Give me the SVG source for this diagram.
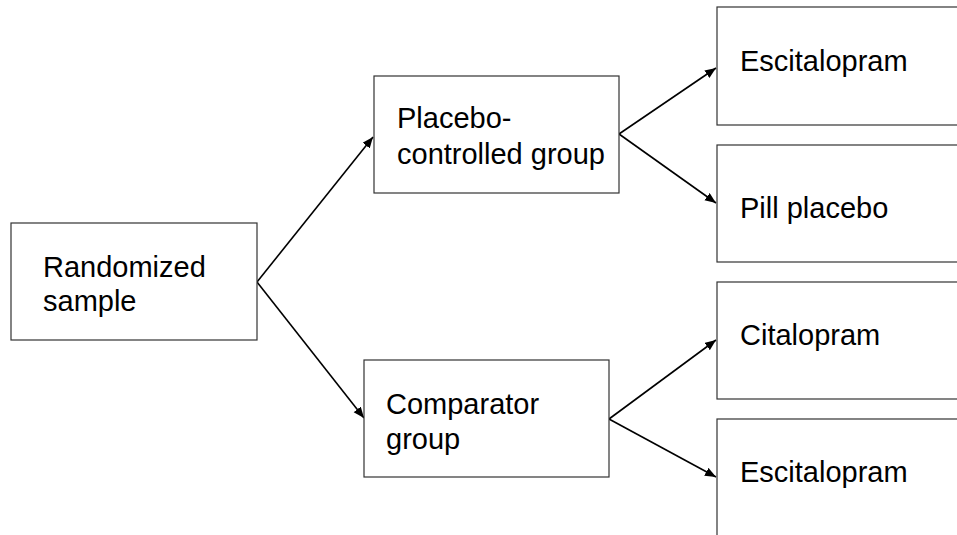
<svg xmlns="http://www.w3.org/2000/svg" width="957" height="535" viewBox="0 0 957 535">
<style>
.box{fill:#ffffff;stroke:#333333;stroke-width:1.2}
.lbl{font-family:"Liberation Sans",Arial,sans-serif;font-size:29px;fill:#000000}
.edge{stroke:#000000;stroke-width:1.6;fill:none;marker-end:url(#arr)}
</style>
<defs>
<marker id="arr" markerUnits="userSpaceOnUse" markerWidth="12" markerHeight="10" refX="11" refY="4.5" orient="auto">
<path d="M0,0 L11,4.5 L0,9 z" fill="#000000"/>
</marker>
</defs>
<rect width="957" height="535" fill="#ffffff"/>
<g id="connectors">
<path class="edge" d="M257,282 L373,137"/>
<path class="edge" d="M257,282 L364,418"/>
<path class="edge" d="M619,134 L716,68"/>
<path class="edge" d="M619,134 L716,203"/>
<path class="edge" d="M609,419 L716,340"/>
<path class="edge" d="M609,419 L716,477"/>
</g>
<g id="randomized">
<rect class="box" x="11" y="223" width="246" height="117"/>
<text class="lbl" x="43" y="277">Randomized</text>
<text class="lbl" x="43" y="311">sample</text>
</g>
<g id="placebo-controlled">
<rect class="box" x="374" y="76" width="245" height="117"/>
<text class="lbl" x="397" y="128">Placebo-</text>
<text class="lbl" x="397" y="164">controlled group</text>
</g>
<g id="comparator">
<rect class="box" x="364" y="360" width="245" height="117"/>
<text class="lbl" x="386" y="414">Comparator</text>
<text class="lbl" x="386" y="449">group</text>
</g>
<g id="escitalopram1">
<rect class="box" x="717" y="7" width="246" height="118"/>
<text class="lbl" x="740" y="71">Escitalopram</text>
</g>
<g id="pill-placebo">
<rect class="box" x="717" y="145" width="246" height="117"/>
<text class="lbl" x="740" y="218">Pill placebo</text>
</g>
<g id="citalopram">
<rect class="box" x="717" y="282" width="246" height="117"/>
<text class="lbl" x="740" y="345">Citalopram</text>
</g>
<g id="escitalopram2">
<rect class="box" x="717" y="419" width="246" height="118"/>
<text class="lbl" x="740" y="482">Escitalopram</text>
</g>
</svg>
